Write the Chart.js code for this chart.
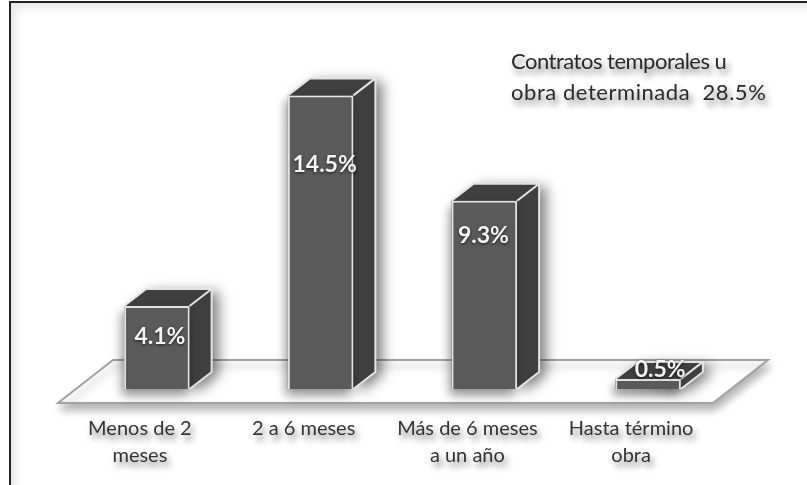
<!DOCTYPE html>
<html>
<head>
<meta charset="utf-8">
<script src="https://cdn.jsdelivr.net/npm/chart.js@4"></script>
<style>
  html, body { margin: 0; padding: 0; background: #fff; }
  #wrap { position: relative; width: 807px; height: 485px; overflow: hidden; }
  #frame {
    position: absolute; left: 9px; top: 1px; width: 900px; height: 600px;
    border: 2px solid #222;
    box-shadow: inset 7px 7px 9px -3px #e4e4e4;
    box-sizing: border-box;
  }
  canvas { position: absolute; left: 0; top: 0; filter: blur(0.45px); }
</style>
</head>
<body>
<div id="wrap">
  <div id="frame"></div>
  <canvas id="chart" width="807" height="485"></canvas>
</div>
<script>
// datos
const categories = [['Menos de 2', 'meses'], '2 a 6 meses', ['Más de 6 meses', 'a un año'], ['Hasta término', 'obra']];
const values = [4.1, 14.5, 9.3, 0.5];
const noteLines = ['Contratos temporales u', 'obra determinada  28.5%'];

const FONT = 'Lato, Carlito, sans-serif';
const DEPTH_X = 22;
const DEPTH_Y = 17;

function softShadow(ctx, color, blur, dx, dy) {
  ctx.shadowColor = color;
  ctx.shadowBlur = blur;
  ctx.shadowOffsetX = dx;
  ctx.shadowOffsetY = dy;
}

// piso en perspectiva, sombra de los textos del eje
const floorPlugin = {
  id: 'floor',
  beforeDraw(chart) {
    const { ctx, chartArea: a } = chart;
    const y0 = chart.scales.y.getPixelForValue(0);
    ctx.save();
    softShadow(ctx, 'rgba(0,0,0,0.3)', 8, 2, 6);
    ctx.beginPath();
    ctx.moveTo(a.left - 17, y0 + 14);
    ctx.lineTo(a.right - 17, y0 + 14);
    ctx.lineTo(a.right + 38, y0 - 29);
    ctx.lineTo(a.left + 38, y0 - 29);
    ctx.closePath();
    ctx.fillStyle = '#fff';
    ctx.fill();
    ctx.lineWidth = 2;
    ctx.strokeStyle = '#a2a2a2';
    ctx.stroke();
    ctx.restore();
    ctx.save();
    softShadow(ctx, 'rgba(0,0,0,0.5)', 6, 3, 5);
  },
  beforeDatasetsDraw(chart) {
    chart.ctx.restore();
  }
};

// caras laterales y superior de cada barra, etiquetas y nota
const box3dPlugin = {
  id: 'box3d',
  beforeDatasetDraw(chart) {
    const { ctx } = chart;
    chart.getDatasetMeta(0).data.forEach((bar) => {
      const left = bar.x - bar.width / 2;
      const right = bar.x + bar.width / 2;
      ctx.save();
      softShadow(ctx, 'rgba(0,0,0,0.5)', 13, 7, 3);
      ctx.fillStyle = '#3f3f3f';
      ctx.beginPath();
      ctx.moveTo(left, bar.y);
      ctx.lineTo(left + DEPTH_X, bar.y - DEPTH_Y);
      ctx.lineTo(right + DEPTH_X, bar.y - DEPTH_Y);
      ctx.lineTo(right + DEPTH_X, bar.base - DEPTH_Y);
      ctx.lineTo(right, bar.base);
      ctx.closePath();
      ctx.fill();
      ctx.restore();
      ctx.save();
      softShadow(ctx, 'rgba(0,0,0,0.45)', 10, -2, 6);
      ctx.fillStyle = '#5a5a5a';
      ctx.fillRect(left, bar.y, bar.width, bar.base - bar.y);
      ctx.restore();
    });
  },
  afterDatasetDraw(chart) {
    const { ctx } = chart;
    chart.getDatasetMeta(0).data.forEach((bar) => {
      const right = bar.x + bar.width / 2;
      ctx.save();
      ctx.strokeStyle = '#e4e4e4';
      ctx.lineWidth = 2;
      ctx.lineJoin = 'round';
      ctx.beginPath();
      ctx.moveTo(bar.x - bar.width / 2, bar.y);
      ctx.lineTo(bar.x - bar.width / 2 + DEPTH_X, bar.y - DEPTH_Y);
      ctx.lineTo(right + DEPTH_X, bar.y - DEPTH_Y);
      ctx.lineTo(right, bar.y);
      ctx.moveTo(right + DEPTH_X, bar.y - DEPTH_Y);
      ctx.lineTo(right + DEPTH_X, bar.base - DEPTH_Y);
      ctx.lineTo(right, bar.base);
      ctx.stroke();
      ctx.restore();
    });
  },
  afterDraw(chart) {
    const { ctx } = chart;
    ctx.save();
    softShadow(ctx, 'rgba(0,0,0,0.7)', 3, 0, 1);
    ctx.font = 'bold 23px ' + FONT;
    ctx.fillStyle = '#f4f4f4';
    ctx.textAlign = 'center';
    ctx.textBaseline = 'middle';
    chart.getDatasetMeta(0).data.forEach((bar, i) => {
      const h = bar.base - bar.y;
      let y = bar.y + 31;
      let x = bar.x + 3;
      if (h < 20) { y = bar.y - 9; x = bar.x + 12; }
      else if (h > 250) { y = bar.y + 69; x = bar.x + 4; }
      else if (h > 150) { y = bar.y + 35; x = bar.x - 1; }
      ctx.fillText(values[i].toFixed(1) + '%', x, y);
    });
    ctx.restore();

    ctx.save();
    softShadow(ctx, 'rgba(0,0,0,0.5)', 6, 3, 5);
    ctx.font = '22px ' + FONT;
    ctx.fillStyle = '#2a2a2a';
    ctx.textBaseline = 'middle';
    ctx.letterSpacing = '-0.5px';
    ctx.fillText(noteLines[0], 511, 62);
    ctx.letterSpacing = '0.55px';
    ctx.fillText(noteLines[1], 511, 93);
    ctx.restore();
  }
};

new Chart(document.getElementById('chart'), {
  type: 'bar',
  data: {
    labels: categories,
    datasets: [{
      data: values,
      backgroundColor: '#5a5a5a',
      borderColor: '#e4e4e4',
      borderWidth: 2,
      barPercentage: 0.4,
      categoryPercentage: 1
    }]
  },
  options: {
    responsive: false,
    animation: false,
    layout: { padding: { left: 75, right: 77, top: 65, bottom: 0 } },
    plugins: { legend: { display: false }, tooltip: { enabled: false } },
    scales: {
      x: {
        grid: { display: false },
        border: { display: false },
        ticks: {
          color: '#333',
          font: { family: FONT, size: 20, lineHeight: 1.35 },
          padding: 18,
          labelOffset: -17,
          maxRotation: 0,
          autoSkip: false
        },
        afterFit(scale) { scale.height = 96; }
      },
      y: { display: false, min: 0, max: 16 }
    }
  },
  plugins: [floorPlugin, box3dPlugin]
});
</script>
</body>
</html>
